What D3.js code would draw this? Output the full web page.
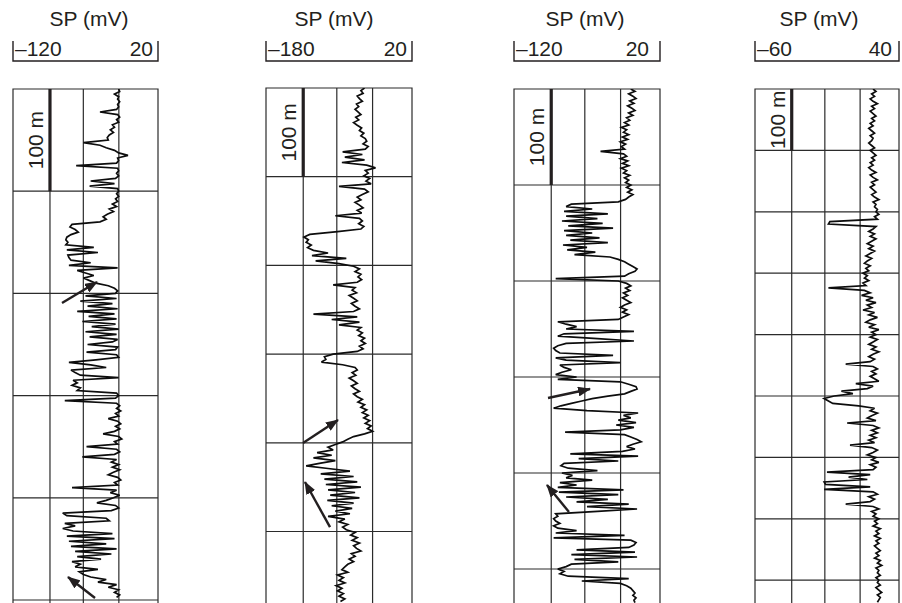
<!DOCTYPE html>
<html><head><meta charset="utf-8">
<script src="https://cdn.jsdelivr.net/npm/d3@7"></script>
<style>
html,body{margin:0;padding:0;background:#fff}
svg{display:block}
text{font-family:"Liberation Sans",Arial,Helvetica,sans-serif;fill:#231f20}
</style>
</head><body>
<svg id="chart" width="902" height="603"></svg>
<script>
// ---------------- DATA ----------------
const scaleTitle = "SP (mV)";
const depthBarLabel = "100 m";
const spMin = [-120, -180, -120, -60];
const spMax = [20, 20, 20, 40];
const depthGridInterval = 100;          // m
const sampleStep = [2.5, 3, 2.5, 4];    // m per sample, per track

const sp1 = [
-18,-17,-22,-18,-19,-17,-19,-18,-20,-36,
-19,-17,-20,-18,-24,-22,-26,-23,-27,-29,
-28,-52,-36,-30,-22,-18,-9,-19,-18,-20,
-59,-19,-18,-20,-18,-21,-45,-22,-46,-19,
-18,-20,-18,-21,-19,-24,-20,-27,-23,-29,
-33,-30,-36,-63,-65,-60,-57,-64,-68,-69,
-67,-69,-42,-68,-38,-67,-66,-64,-45,-66,
-19,-58,-50,-42,-52,-46,-40,-28,-22,-19,
-21,-50,-20,-55,-24,-48,-19,-58,-22,-47,
-20,-53,-21,-44,-18,-50,-20,-46,-19,-24,
-48,-19,-21,-49,-20,-18,-40,-66,-45,-30,
-64,-60,-55,-18,-62,-58,-63,-55,-58,-20,
-18,-21,-70,-20,-17,-20,-16,-21,-18,-28,
-19,-16,-21,-17,-22,-33,-18,-15,-22,-19,
-49,-20,-17,-22,-53,-20,-25,-18,-24,-17,
-23,-28,-19,-16,-22,-19,-63,-20,-26,-17,
-23,-30,-39,-21,-18,-25,-72,-68,-30,-27,
-70,-60,-72,-62,-24,-68,-22,-66,-30,-64,
-20,-60,-25,-58,-35,-63,-55,-60,-38,-56,
-52,-45,-30,-38,-20,-28,-18,-22,-17,-20
];
const sp2 = [
-45,-50,-47,-55,-52,-48,-56,-53,-58,-54,
-50,-57,-53,-60,-55,-49,-52,-46,-50,-44,
-42,-47,-40,-44,-75,-48,-72,-45,-76,-42,
-30,-44,-40,-46,-38,-43,-36,-80,-45,-40,
-48,-55,-50,-58,-52,-47,-55,-49,-85,-52,
-48,-53,-46,-50,-82,-120,-128,-122,-125,-118,
-123,-115,-95,-117,-70,-112,-80,-60,-52,-58,
-50,-54,-49,-55,-88,-58,-62,-56,-66,-60,
-55,-63,-58,-52,-60,-115,-55,-90,-52,-80,
-50,-55,-48,-53,-45,-50,-44,-52,-47,-55,
-88,-100,-98,-104,-75,-58,-55,-62,-57,-66,
-60,-55,-63,-58,-52,-60,-55,-48,-54,-45,
-50,-42,-48,-40,-46,-38,-44,-36,-41,-34,
-45,-60,-68,-75,-85,-95,-88,-110,-90,-115,
-85,-105,-125,-95,-65,-105,-60,-100,-55,-98,
-50,-95,-58,-92,-52,-96,-60,-90,-62,-85,
-65,-95,-72,-80,-68,-75,-70,-58,-64,-55,
-62,-52,-60,-56,-50,-63,-58,-66,-60,-68,
-72,-76,-68,-82,-74,-80,-72,-84,-76,-82,
-74,-80,-72,-78
];
const sp3 = [
-8,-4,-10,-6,-3,-9,-5,-11,-7,-4,
-10,-6,-12,-9,-14,-10,-17,-12,-15,-10,
-16,-11,-18,-13,-17,-14,-37,-15,-12,-18,
-11,-16,-10,-17,-12,-15,-9,-14,-10,-13,
-8,-12,-7,-11,-6,-10,-13,-20,-65,-70,
-45,-72,-30,-70,-40,-74,-35,-68,-25,-72,
-45,-70,-38,-66,-30,-73,-50,-69,-42,-62,
-28,-20,-14,-10,-6,-2,-4,-10,-14,-80,
-20,-12,-8,-13,-9,-15,-11,-16,-12,-8,
-14,-18,-12,-16,-10,-15,-20,-78,-70,-60,
-70,-5,-72,-78,-40,-5,-70,-78,-82,-80,
-76,-25,-80,-70,-18,-76,-72,-65,-74,-80,
-60,-78,-18,-10,-3,-2,-8,-14,-30,-45,
-55,-65,-75,-82,-50,-1,-15,-8,-20,-3,
-22,-5,-18,-71,-14,-8,-2,2,-6,-12,
-4,-16,-66,-1,-58,-20,-72,-75,-68,-40,
-74,-64,-70,-45,-76,-60,-78,-15,-77,-20,
-70,-30,-60,-10,-50,-2,-40,-80,-78,-82,
-80,-76,-82,-78,-60,-80,-14,-82,-8,-3,
-5,-10,-60,-4,-65,-2,-62,-20,-65,-70,
-78,-72,-76,-68,-10,-55,-18,-12,-8,-6,
-4,-6,-3,-5,-4
];
const sp4 = [
22,24,21,23,20,22,25,21,23,20,
22,24,21,23,20,22,19,21,23,20,
22,21,19,21,23,20,22,24,21,23,
20,22,19,21,24,20,22,25,21,23,
20,22,24,21,23,26,22,24,23,25,
24,26,23,25,-8,-9,24,22,19,23,
20,24,21,18,22,19,23,20,17,21,
18,16,20,17,19,15,18,16,19,15,
17,-9,16,20,14,22,17,24,18,21,
15,23,19,25,20,17,23,19,26,21,
24,20,25,22,19,24,21,26,22,19,
23,20,3,22,25,21,24,20,23,26,
10,22,18,0,8,-5,-12,-9,-6,12,
23,20,25,21,18,24,4,22,26,21,
25,20,24,19,23,6,21,25,22,18,
24,21,26,20,24,22,-10,20,5,18,
-12,-11,20,-12,22,25,19,23,20,3,
22,26,21,24,22,26,23,25,22,27,
24,26,23,27,24,26,23,25,27,24,
26,23,27,25,28,24,26,25,27,24,
26,25,27,24,26,28,25,27,26,25
];
// arrows: [spFrom, depthFrom, spTo, depthTo]
const arrows1 = [[-72.7, 209.4, -38.9, 188.8], [-40.8, 498, -66.9, 477.5]];
const arrows2 = [[-129.3, 400.2, -81.4, 374.3], [-92.3, 495, -126.6, 444.2]];
const arrows3 = [[-87.4, 321.9, -47.1, 312.5], [-67.3, 440.6, -88.4, 412.5]];
const arrows4 = [];

// ---------------- LAYOUT ----------------
const seriesList = [sp1, sp2, sp3, sp4];
const arrowList = [arrows1, arrows2, arrows3, arrows4];
const layout = [
  {left: 13,  right: 158, top: 89, px100: 102.2, titleX: 89,  rPad: 5},
  {left: 266, right: 412, top: 88, px100: 88.7,  titleX: 334, rPad: 5},
  {left: 514, right: 660, top: 89, px100: 96,    titleX: 585, rPad: 11},
  {left: 755, right: 899, top: 89, px100: 61.4,  titleX: 819, rPad: 7}
];
const colFrac = [0.255, 0.485, 0.73];
const H = 603;
const fontSize = 21;
const ink = "#231f20";

const svg = d3.select("#chart");
svg.append("rect").attr("width", 902).attr("height", H).attr("fill", "#fff");
const defs = svg.append("defs");
defs.append("marker").attr("id", "ah")
  .attr("viewBox", "0 0 13 10").attr("refX", 12).attr("refY", 5)
  .attr("markerWidth", 13).attr("markerHeight", 10)
  .attr("markerUnits", "userSpaceOnUse").attr("orient", "auto")
  .append("path").attr("d", "M0,0 L13,5 L0,10 Z").attr("fill", ink);

const fmt = v => v < 0 ? "\u2013" + Math.abs(v) : String(v);

layout.forEach((L, t) => {
  const x = d3.scaleLinear().domain([spMin[t], spMax[t]]).range([L.left, L.right]);
  const y = d3.scaleLinear().domain([0, depthGridInterval]).range([L.top, L.top + L.px100]);
  const maxDepth = y.invert(H + 10);
  const g = svg.append("g");

  // header
  g.append("text").attr("x", L.titleX).attr("y", 26).attr("text-anchor", "middle")
    .attr("font-size", fontSize).text(scaleTitle);
  g.append("path")
    .attr("d", `M${x(spMin[t])},41V61H${x(spMax[t])}V41`)
    .attr("fill", "none").attr("stroke", ink).attr("stroke-width", 1.4);
  g.append("text").attr("x", x(spMin[t]) + 2).attr("y", 56).attr("font-size", fontSize)
    .text(fmt(spMin[t]));
  g.append("text").attr("x", x(spMax[t]) - L.rPad).attr("y", 56).attr("font-size", fontSize)
    .attr("text-anchor", "end").text(fmt(spMax[t]));

  // clip
  const cid = "clip" + t;
  defs.append("clipPath").attr("id", cid).append("rect")
    .attr("x", L.left).attr("y", L.top).attr("width", L.right - L.left).attr("height", H - L.top + 10);

  // grid
  const grid = g.append("g").attr("stroke", "#2b2b2b").attr("stroke-width", 1.2);
  d3.range(depthGridInterval, maxDepth, depthGridInterval).forEach(d => {
    grid.append("line").attr("x1", L.left).attr("x2", L.right).attr("y1", y(d)).attr("y2", y(d));
  });
  colFrac.forEach(f => {
    const xx = L.left + f * (L.right - L.left);
    grid.append("line").attr("x1", xx).attr("x2", xx).attr("y1", L.top).attr("y2", H + 5);
  });
  grid.append("path")
    .attr("d", `M${L.left},${H + 5}V${L.top}H${L.right}V${H + 5}`)
    .attr("fill", "none");

  // 100 m bar
  const barX = L.left + colFrac[0] * (L.right - L.left);
  g.append("line").attr("x1", barX).attr("x2", barX).attr("y1", y(0)).attr("y2", y(depthGridInterval))
    .attr("stroke", ink).attr("stroke-width", 3.2);
  const my = (y(0) + y(depthGridInterval)) / 2;
  g.append("text").attr("transform", `translate(${barX - 7},${my}) rotate(-90)`)
    .attr("text-anchor", "middle").attr("font-size", fontSize).text(depthBarLabel);

  // curve
  const line = d3.line().x(v => x(v)).y((v, i) => y(i * sampleStep[t]));
  g.append("path").attr("clip-path", `url(#${cid})`)
    .attr("d", line(seriesList[t]))
    .attr("fill", "none").attr("stroke", "#0d0d0d").attr("stroke-width", 1.7)
    .attr("stroke-linejoin", "miter").attr("stroke-miterlimit", 3);

  // arrows
  arrowList[t].forEach(a => {
    g.append("line")
      .attr("x1", x(a[0])).attr("y1", y(a[1]))
      .attr("x2", x(a[2])).attr("y2", y(a[3]))
      .attr("stroke", ink).attr("stroke-width", 2.4)
      .attr("marker-end", "url(#ah)");
  });
});
</script>
</body></html>
